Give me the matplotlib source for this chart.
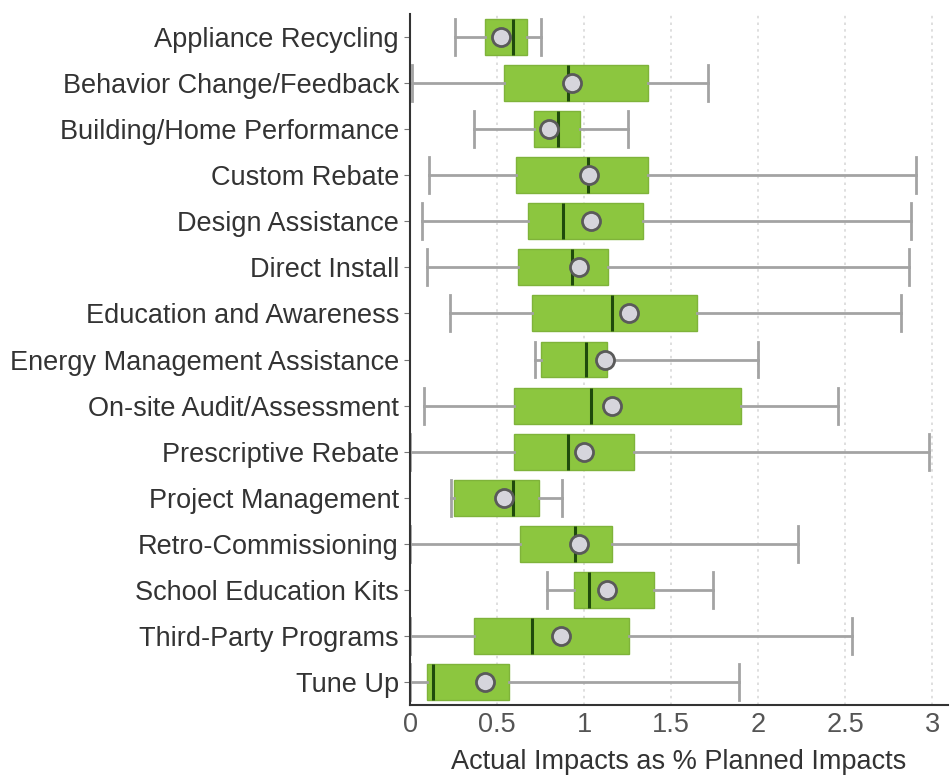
import matplotlib
matplotlib.use("Agg")
import matplotlib.pyplot as plt

plt.rcParams['font.family'] = ['Liberation Sans', 'DejaVu Sans']

programs = ["Appliance Recycling", "Behavior Change/Feedback", "Building/Home Performance",
            "Custom Rebate", "Design Assistance", "Direct Install", "Education and Awareness",
            "Energy Management Assistance", "On-site Audit/Assessment", "Prescriptive Rebate",
            "Project Management", "Retro-Commissioning", "School Education Kits",
            "Third-Party Programs", "Tune Up"]

whisker_lo = [0.26, 0.01, 0.37, 0.11, 0.07, 0.10, 0.23, 0.72, 0.08, 0.00, 0.235, 0.00, 0.79, 0.00, 0.00]
q1 =         [0.43, 0.54, 0.71, 0.61, 0.68, 0.62, 0.70, 0.75, 0.60, 0.60, 0.25, 0.63, 0.94, 0.37, 0.10]
median =     [0.59, 0.91, 0.85, 1.02, 0.88, 0.93, 1.16, 1.01, 1.04, 0.91, 0.59, 0.95, 1.03, 0.70, 0.13]
q3 =         [0.67, 1.37, 0.975, 1.37, 1.34, 1.14, 1.65, 1.13, 1.90, 1.29, 0.74, 1.16, 1.40, 1.26, 0.57]
whisker_hi = [0.75, 1.71, 1.25, 2.91, 2.88, 2.87, 2.82, 2.00, 2.46, 2.98, 0.875, 2.23, 1.74, 2.54, 1.89]
mean =       [0.525, 0.93, 0.80, 1.03, 1.04, 0.97, 1.26, 1.12, 1.16, 1.00, 0.54, 0.97, 1.13, 0.87, 0.43]

x_ticks = [0, 0.5, 1, 1.5, 2, 2.5, 3]
x_labels = ["0", "0.5", "1", "1.5", "2", "2.5", "3"]

stats = []
for i, name in enumerate(programs):
    stats.append({"label": name, "whislo": whisker_lo[i], "q1": q1[i], "med": median[i],
                  "q3": q3[i], "whishi": whisker_hi[i], "mean": mean[i], "fliers": []})

fig = plt.figure(figsize=(9.5, 7.79), dpi=100)
ax = fig.add_axes([0.4316, 0.095, 0.566, 0.887])

positions = list(range(len(programs)))
ax.bxp(stats, positions=positions, vert=False, widths=0.78, patch_artist=True,
       showmeans=True, showfliers=False,
       boxprops=dict(facecolor="#8cc63f", edgecolor="#7fb33a", linewidth=1),
       medianprops=dict(color="#1f4a0c", linewidth=2.2),
       whiskerprops=dict(color="#a3a3a3", linewidth=2),
       capprops=dict(color="#a3a3a3", linewidth=2),
       capwidths=0.78,
       meanprops=dict(marker="o", markerfacecolor="#d6d5dc", markeredgecolor="#5a5a5a",
                      markeredgewidth=2, markersize=13))

ax.set_ylim(len(programs) - 0.5, -0.5)
ax.set_xlim(0, 3.09)
ax.set_yticks(positions)
ax.set_yticklabels(programs, fontsize=19.5, color="#333333")
ax.set_xticks(x_ticks)
ax.set_xticklabels(x_labels, fontsize=19.5, color="#555555")
ax.set_xlabel("Actual Impacts as % Planned Impacts", fontsize=19.5, color="#333333", labelpad=8)

for x in x_ticks[1:]:
    ax.axvline(x, color="#d9d9d9", linestyle=(0, (1.5, 2.5)), linewidth=1.2, zorder=0)

for side in ["top", "right"]:
    ax.spines[side].set_visible(False)
ax.spines["left"].set_linestyle((0, (2, 1)))
ax.spines["left"].set_color("#333333")
ax.spines["left"].set_linewidth(1.5)
ax.spines["bottom"].set_color("#333333")
ax.spines["bottom"].set_linewidth(1.5)
ax.tick_params(axis="y", length=4, color="#777777", pad=4)
ax.tick_params(axis="x", length=0, pad=5)

fig.savefig("out.png", dpi=100)
